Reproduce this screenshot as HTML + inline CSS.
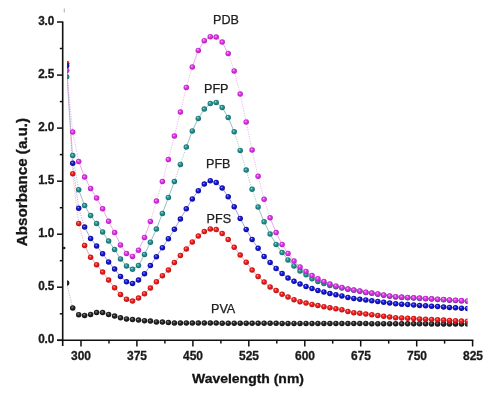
<!DOCTYPE html>
<html><head><meta charset="utf-8"><style>
html,body{margin:0;padding:0;background:#fff;}
#c{position:relative;width:500px;height:405px;overflow:hidden;background:#fff;filter:blur(0.35px);font-family:"Liberation Sans",sans-serif;}
.yl{position:absolute;left:30px;width:24px;text-align:right;font-weight:bold;font-size:12px;line-height:14px;color:#1a1a1a;-webkit-text-stroke:0.3px #1a1a1a;transform:scaleX(0.98);transform-origin:right center;letter-spacing:-0.2px;}
.xl{position:absolute;top:348.9px;width:40px;text-align:center;font-weight:bold;font-size:12.5px;line-height:14px;color:#1a1a1a;-webkit-text-stroke:0.3px #1a1a1a;transform:scaleX(0.96);}
.lab{position:absolute;font-size:12.6px;line-height:14px;color:#202020;-webkit-text-stroke:0.25px #202020;white-space:nowrap;}
#xt{position:absolute;left:192px;top:371px;font-weight:bold;font-size:13.3px;line-height:16px;color:#151515;-webkit-text-stroke:0.3px #151515;white-space:nowrap;transform:scaleX(1.05);transform-origin:left center;}
#yt{position:absolute;left:22px;top:182px;font-weight:bold;font-size:14px;line-height:16px;color:#151515;-webkit-text-stroke:0.3px #151515;white-space:nowrap;transform:translate(-50%,-50%) rotate(-90deg) scaleX(1.085);}
</style></head><body><div id="c">
<svg width="500" height="405" viewBox="0 0 500 405" style="position:absolute;left:0;top:0"><defs><radialGradient id="gteal" cx="0.5" cy="0.5" fx="0.38" fy="0.33" r="0.55"><stop offset="0" stop-color="#a8eeee"/><stop offset="0.35" stop-color="#2a9696"/><stop offset="1" stop-color="#166666"/></radialGradient><radialGradient id="gblack" cx="0.5" cy="0.5" fx="0.38" fy="0.33" r="0.55"><stop offset="0" stop-color="#b0b0b0"/><stop offset="0.35" stop-color="#303030"/><stop offset="1" stop-color="#0a0a0a"/></radialGradient><radialGradient id="gred" cx="0.5" cy="0.5" fx="0.38" fy="0.33" r="0.55"><stop offset="0" stop-color="#ffb8b8"/><stop offset="0.35" stop-color="#f52424"/><stop offset="1" stop-color="#b00c0c"/></radialGradient><radialGradient id="gblue" cx="0.5" cy="0.5" fx="0.38" fy="0.33" r="0.55"><stop offset="0" stop-color="#b8b8ff"/><stop offset="0.35" stop-color="#1c1ce0"/><stop offset="1" stop-color="#08088a"/></radialGradient><radialGradient id="gmag" cx="0.5" cy="0.5" fx="0.38" fy="0.33" r="0.55"><stop offset="0" stop-color="#ffc8ff"/><stop offset="0.35" stop-color="#e63cef"/><stop offset="1" stop-color="#aa18b2"/></radialGradient><clipPath id="cp"><rect x="67.0" y="0" width="400.5" height="405"/></clipPath></defs><g clip-path="url(#cp)"><line x1="66.7" y1="76.7" x2="72.7" y2="155.6" stroke="#78b0b0" stroke-opacity="0.85" stroke-width="0.8" stroke-dasharray="1.2,1.2"/><line x1="72.7" y1="155.6" x2="78.7" y2="189.7" stroke="#78b0b0" stroke-opacity="0.85" stroke-width="0.8" stroke-dasharray="1.2,1.2"/><polyline points="78.7,189.7 84.6,205.6 90.6,215.6 96.6,223.5 102.6,231.9 108.6,241.0 114.6,249.5 120.5,258.9 126.5,265.9 132.5,269.3 138.5,265.6 144.5,254.4 150.4,242.3 156.4,229.0 162.4,213.4 168.4,197.5 174.4,181.5" fill="none" stroke="#78b0b0" stroke-width="0.8"/><line x1="174.4" y1="181.5" x2="180.4" y2="164.4" stroke="#78b0b0" stroke-opacity="0.85" stroke-width="0.8" stroke-dasharray="1.2,1.2"/><line x1="180.4" y1="164.4" x2="186.3" y2="147.1" stroke="#78b0b0" stroke-opacity="0.85" stroke-width="0.8" stroke-dasharray="1.2,1.2"/><polyline points="186.3,147.1 192.3,130.9 198.3,118.4 204.3,109.1 210.3,103.6 216.2,102.4 222.2,107.6 228.2,117.5 234.2,131.8" fill="none" stroke="#78b0b0" stroke-width="0.8"/><line x1="234.2" y1="131.8" x2="240.2" y2="150.4" stroke="#78b0b0" stroke-opacity="0.85" stroke-width="0.8" stroke-dasharray="1.2,1.2"/><line x1="240.2" y1="150.4" x2="246.2" y2="170.1" stroke="#78b0b0" stroke-opacity="0.85" stroke-width="0.8" stroke-dasharray="1.2,1.2"/><line x1="246.2" y1="170.1" x2="252.1" y2="189.3" stroke="#78b0b0" stroke-opacity="0.85" stroke-width="0.8" stroke-dasharray="1.2,1.2"/><line x1="252.1" y1="189.3" x2="258.1" y2="207.0" stroke="#78b0b0" stroke-opacity="0.85" stroke-width="0.8" stroke-dasharray="1.2,1.2"/><polyline points="258.1,207.0 264.1,221.8 270.1,234.0 276.1,244.4 282.1,252.6 288.0,259.9 294.0,265.9 300.0,271.1 306.0,274.8 312.0,278.8 317.9,281.4 323.9,283.5 329.9,285.5 335.9,286.7 341.9,287.9 347.9,289.3 353.8,290.3 359.8,291.3 365.8,292.5 371.8,293.3 377.8,294.3 383.7,295.2 389.7,296.2 395.7,297.0 401.7,297.4 407.7,297.7 413.7,298.1 419.6,298.4 425.6,298.8 431.6,299.1 437.6,299.5 443.6,299.8 449.5,300.2 455.5,300.5 461.5,300.9 467.5,301.2" fill="none" stroke="#78b0b0" stroke-width="0.8"/><line x1="66.7" y1="283.0" x2="72.7" y2="308.0" stroke="#a0a0a0" stroke-opacity="0.85" stroke-width="0.8" stroke-dasharray="1.2,1.2"/><polyline points="72.7,308.0 78.7,314.7 84.6,315.4 90.6,314.4 96.6,312.6 102.6,312.6 108.6,314.4 114.6,316.1 120.5,317.8 126.5,318.9 132.5,319.6 138.5,320.1 144.5,320.7 150.4,321.1 156.4,321.9 162.4,322.1 168.4,322.6 174.4,323.0 180.4,323.0 186.3,323.0 192.3,323.1 198.3,323.1 204.3,323.1 210.3,323.1 216.2,323.1 222.2,323.2 228.2,323.2 234.2,323.2 240.2,323.2 246.2,323.2 252.1,323.3 258.1,323.3 264.1,323.3 270.1,323.3 276.1,323.3 282.1,323.4 288.0,323.4 294.0,323.4 300.0,323.4 306.0,323.4 312.0,323.5 317.9,323.5 323.9,323.5 329.9,323.5 335.9,323.5 341.9,323.6 347.9,323.6 353.8,323.6 359.8,323.6 365.8,323.6 371.8,323.7 377.8,323.7 383.7,323.7 389.7,323.7 395.7,323.7 401.7,323.8 407.7,323.8 413.7,323.8 419.6,323.8 425.6,323.8 431.6,323.9 437.6,323.9 443.6,323.9 449.5,323.9 455.5,323.9 461.5,324.0 467.5,324.0" fill="none" stroke="#a0a0a0" stroke-width="0.8" stroke-dasharray="1.2,1.2"/><line x1="66.7" y1="63.5" x2="72.7" y2="173.7" stroke="#e89090" stroke-opacity="0.85" stroke-width="0.8" stroke-dasharray="1.2,1.2"/><line x1="72.7" y1="173.7" x2="78.7" y2="223.5" stroke="#e89090" stroke-opacity="0.85" stroke-width="0.8" stroke-dasharray="1.2,1.2"/><line x1="78.7" y1="223.5" x2="84.6" y2="245.5" stroke="#e89090" stroke-opacity="0.85" stroke-width="0.8" stroke-dasharray="1.2,1.2"/><polyline points="84.6,245.5 90.6,257.3 96.6,264.7 102.6,272.1 108.6,280.0 114.6,287.7 120.5,294.4 126.5,299.3 132.5,301.1 138.5,298.1 144.5,293.7 150.4,288.0 156.4,281.8 162.4,275.7 168.4,270.0 174.4,262.5 180.4,255.6 186.3,248.9 192.3,241.9 198.3,236.0 204.3,231.6 210.3,228.9 216.2,229.6 222.2,233.6 228.2,239.6 234.2,247.3 240.2,255.1 246.2,262.2 252.1,270.1 258.1,276.5 264.1,282.0 270.1,286.9 276.1,290.6 282.1,294.3 288.0,297.0 294.0,299.7 300.0,301.7 306.0,303.1 312.0,304.4 317.9,305.6 323.9,306.7 329.9,307.8 335.9,308.8 341.9,309.7 347.9,311.5 353.8,312.7 359.8,313.3 365.8,314.1 371.8,314.7 377.8,315.6 383.7,316.2 389.7,317.1 395.7,317.7 401.7,318.0 407.7,318.3 413.7,318.6 419.6,318.9 425.6,319.2 431.6,319.5 437.6,319.8 443.6,320.1 449.5,320.4 455.5,320.7 461.5,321.0 467.5,321.3" fill="none" stroke="#e89090" stroke-width="0.8"/><line x1="66.7" y1="65.8" x2="72.7" y2="163.3" stroke="#8888d8" stroke-opacity="0.85" stroke-width="0.8" stroke-dasharray="1.2,1.2"/><line x1="72.7" y1="163.3" x2="78.7" y2="208.2" stroke="#8888d8" stroke-opacity="0.85" stroke-width="0.8" stroke-dasharray="1.2,1.2"/><line x1="78.7" y1="208.2" x2="84.6" y2="227.1" stroke="#8888d8" stroke-opacity="0.85" stroke-width="0.8" stroke-dasharray="1.2,1.2"/><polyline points="84.6,227.1 90.6,238.5 96.6,245.9 102.6,253.8 108.6,261.9 114.6,269.1 120.5,276.4 126.5,281.8 132.5,283.5 138.5,280.0 144.5,273.7 150.4,265.6 156.4,256.7 162.4,247.7 168.4,238.7 174.4,229.3 180.4,219.1 186.3,208.8 192.3,198.9 198.3,190.7 204.3,184.1 210.3,180.7 216.2,182.6 222.2,188.1 228.2,196.7 234.2,206.7 240.2,218.5 246.2,229.4 252.1,239.4 258.1,248.3 264.1,256.4 270.1,262.5 276.1,268.6 282.1,273.6 288.0,278.1 294.0,281.3 300.0,284.1 306.0,286.4 312.0,288.6 317.9,290.4 323.9,291.9 329.9,293.6 335.9,294.8 341.9,295.9 347.9,297.4 353.8,298.4 359.8,299.3 365.8,299.9 371.8,300.8 377.8,301.4 383.7,302.3 389.7,302.9 395.7,303.8 401.7,304.2 407.7,304.6 413.7,305.0 419.6,305.4 425.6,305.8 431.6,306.2 437.6,306.6 443.6,307.0 449.5,307.4 455.5,307.8 461.5,308.2 467.5,308.6" fill="none" stroke="#8888d8" stroke-width="0.8"/><line x1="66.7" y1="70.5" x2="72.7" y2="132.1" stroke="#e890e8" stroke-opacity="0.85" stroke-width="0.8" stroke-dasharray="1.2,1.2"/><line x1="72.7" y1="132.1" x2="78.7" y2="161.5" stroke="#e890e8" stroke-opacity="0.85" stroke-width="0.8" stroke-dasharray="1.2,1.2"/><polyline points="78.7,161.5 84.6,177.1 90.6,188.5 96.6,198.1 102.6,208.8 108.6,221.3 114.6,232.6 120.5,244.9 126.5,253.4 132.5,256.4 138.5,250.2 144.5,237.5 150.4,221.4" fill="none" stroke="#e890e8" stroke-width="0.8"/><line x1="150.4" y1="221.4" x2="156.4" y2="201.0" stroke="#e890e8" stroke-opacity="0.85" stroke-width="0.8" stroke-dasharray="1.2,1.2"/><line x1="156.4" y1="201.0" x2="162.4" y2="181.5" stroke="#e890e8" stroke-opacity="0.85" stroke-width="0.8" stroke-dasharray="1.2,1.2"/><line x1="162.4" y1="181.5" x2="168.4" y2="159.6" stroke="#e890e8" stroke-opacity="0.85" stroke-width="0.8" stroke-dasharray="1.2,1.2"/><line x1="168.4" y1="159.6" x2="174.4" y2="136.0" stroke="#e890e8" stroke-opacity="0.85" stroke-width="0.8" stroke-dasharray="1.2,1.2"/><line x1="174.4" y1="136.0" x2="180.4" y2="112.0" stroke="#e890e8" stroke-opacity="0.85" stroke-width="0.8" stroke-dasharray="1.2,1.2"/><line x1="180.4" y1="112.0" x2="186.3" y2="87.5" stroke="#e890e8" stroke-opacity="0.85" stroke-width="0.8" stroke-dasharray="1.2,1.2"/><line x1="186.3" y1="87.5" x2="192.3" y2="67.0" stroke="#e890e8" stroke-opacity="0.85" stroke-width="0.8" stroke-dasharray="1.2,1.2"/><polyline points="192.3,67.0 198.3,50.4 204.3,40.7 210.3,36.7 216.2,37.1 222.2,42.1 228.2,53.4" fill="none" stroke="#e890e8" stroke-width="0.8"/><line x1="228.2" y1="53.4" x2="234.2" y2="70.9" stroke="#e890e8" stroke-opacity="0.85" stroke-width="0.8" stroke-dasharray="1.2,1.2"/><line x1="234.2" y1="70.9" x2="240.2" y2="94.1" stroke="#e890e8" stroke-opacity="0.85" stroke-width="0.8" stroke-dasharray="1.2,1.2"/><line x1="240.2" y1="94.1" x2="246.2" y2="122.0" stroke="#e890e8" stroke-opacity="0.85" stroke-width="0.8" stroke-dasharray="1.2,1.2"/><line x1="246.2" y1="122.0" x2="252.1" y2="150.0" stroke="#e890e8" stroke-opacity="0.85" stroke-width="0.8" stroke-dasharray="1.2,1.2"/><line x1="252.1" y1="150.0" x2="258.1" y2="176.3" stroke="#e890e8" stroke-opacity="0.85" stroke-width="0.8" stroke-dasharray="1.2,1.2"/><line x1="258.1" y1="176.3" x2="264.1" y2="199.3" stroke="#e890e8" stroke-opacity="0.85" stroke-width="0.8" stroke-dasharray="1.2,1.2"/><line x1="264.1" y1="199.3" x2="270.1" y2="217.8" stroke="#e890e8" stroke-opacity="0.85" stroke-width="0.8" stroke-dasharray="1.2,1.2"/><polyline points="270.1,217.8 276.1,232.6 282.1,244.4 288.0,253.5 294.0,261.0 300.0,267.0 306.0,271.4 312.0,275.6 317.9,278.8 323.9,281.5 329.9,284.1 335.9,285.9 341.9,287.6 347.9,289.0 353.8,290.0 359.8,291.0 365.8,292.2 371.8,293.0 377.8,294.0 383.7,294.9 389.7,295.9 395.7,296.7 401.7,297.1 407.7,297.4 413.7,297.8 419.6,298.1 425.6,298.5 431.6,298.8 437.6,299.2 443.6,299.5 449.5,299.9 455.5,300.2 461.5,300.6 467.5,300.9" fill="none" stroke="#e890e8" stroke-width="0.8"/><circle cx="66.7" cy="76.7" r="2.75" fill="url(#gteal)"/><circle cx="72.7" cy="155.6" r="2.75" fill="url(#gteal)"/><circle cx="78.7" cy="189.7" r="2.75" fill="url(#gteal)"/><circle cx="84.6" cy="205.6" r="2.75" fill="url(#gteal)"/><circle cx="90.6" cy="215.6" r="2.75" fill="url(#gteal)"/><circle cx="96.6" cy="223.5" r="2.75" fill="url(#gteal)"/><circle cx="102.6" cy="231.9" r="2.75" fill="url(#gteal)"/><circle cx="108.6" cy="241.0" r="2.75" fill="url(#gteal)"/><circle cx="114.6" cy="249.5" r="2.75" fill="url(#gteal)"/><circle cx="120.5" cy="258.9" r="2.75" fill="url(#gteal)"/><circle cx="126.5" cy="265.9" r="2.75" fill="url(#gteal)"/><circle cx="132.5" cy="269.3" r="2.75" fill="url(#gteal)"/><circle cx="138.5" cy="265.6" r="2.75" fill="url(#gteal)"/><circle cx="144.5" cy="254.4" r="2.75" fill="url(#gteal)"/><circle cx="150.4" cy="242.3" r="2.75" fill="url(#gteal)"/><circle cx="156.4" cy="229.0" r="2.75" fill="url(#gteal)"/><circle cx="162.4" cy="213.4" r="2.75" fill="url(#gteal)"/><circle cx="168.4" cy="197.5" r="2.75" fill="url(#gteal)"/><circle cx="174.4" cy="181.5" r="2.75" fill="url(#gteal)"/><circle cx="180.4" cy="164.4" r="2.75" fill="url(#gteal)"/><circle cx="186.3" cy="147.1" r="2.75" fill="url(#gteal)"/><circle cx="192.3" cy="130.9" r="2.75" fill="url(#gteal)"/><circle cx="198.3" cy="118.4" r="2.75" fill="url(#gteal)"/><circle cx="204.3" cy="109.1" r="2.75" fill="url(#gteal)"/><circle cx="210.3" cy="103.6" r="2.75" fill="url(#gteal)"/><circle cx="216.2" cy="102.4" r="2.75" fill="url(#gteal)"/><circle cx="222.2" cy="107.6" r="2.75" fill="url(#gteal)"/><circle cx="228.2" cy="117.5" r="2.75" fill="url(#gteal)"/><circle cx="234.2" cy="131.8" r="2.75" fill="url(#gteal)"/><circle cx="240.2" cy="150.4" r="2.75" fill="url(#gteal)"/><circle cx="246.2" cy="170.1" r="2.75" fill="url(#gteal)"/><circle cx="252.1" cy="189.3" r="2.75" fill="url(#gteal)"/><circle cx="258.1" cy="207.0" r="2.75" fill="url(#gteal)"/><circle cx="264.1" cy="221.8" r="2.75" fill="url(#gteal)"/><circle cx="270.1" cy="234.0" r="2.75" fill="url(#gteal)"/><circle cx="276.1" cy="244.4" r="2.75" fill="url(#gteal)"/><circle cx="282.1" cy="252.6" r="2.75" fill="url(#gteal)"/><circle cx="288.0" cy="259.9" r="2.75" fill="url(#gteal)"/><circle cx="294.0" cy="265.9" r="2.75" fill="url(#gteal)"/><circle cx="300.0" cy="271.1" r="2.75" fill="url(#gteal)"/><circle cx="306.0" cy="274.8" r="2.75" fill="url(#gteal)"/><circle cx="312.0" cy="278.8" r="2.75" fill="url(#gteal)"/><circle cx="317.9" cy="281.4" r="2.75" fill="url(#gteal)"/><circle cx="323.9" cy="283.5" r="2.75" fill="url(#gteal)"/><circle cx="329.9" cy="285.5" r="2.75" fill="url(#gteal)"/><circle cx="335.9" cy="286.7" r="2.75" fill="url(#gteal)"/><circle cx="341.9" cy="287.9" r="2.75" fill="url(#gteal)"/><circle cx="347.9" cy="289.3" r="2.75" fill="url(#gteal)"/><circle cx="353.8" cy="290.3" r="2.75" fill="url(#gteal)"/><circle cx="359.8" cy="291.3" r="2.75" fill="url(#gteal)"/><circle cx="365.8" cy="292.5" r="2.75" fill="url(#gteal)"/><circle cx="371.8" cy="293.3" r="2.75" fill="url(#gteal)"/><circle cx="377.8" cy="294.3" r="2.75" fill="url(#gteal)"/><circle cx="383.7" cy="295.2" r="2.75" fill="url(#gteal)"/><circle cx="389.7" cy="296.2" r="2.75" fill="url(#gteal)"/><circle cx="395.7" cy="297.0" r="2.75" fill="url(#gteal)"/><circle cx="401.7" cy="297.4" r="2.75" fill="url(#gteal)"/><circle cx="407.7" cy="297.7" r="2.75" fill="url(#gteal)"/><circle cx="413.7" cy="298.1" r="2.75" fill="url(#gteal)"/><circle cx="419.6" cy="298.4" r="2.75" fill="url(#gteal)"/><circle cx="425.6" cy="298.8" r="2.75" fill="url(#gteal)"/><circle cx="431.6" cy="299.1" r="2.75" fill="url(#gteal)"/><circle cx="437.6" cy="299.5" r="2.75" fill="url(#gteal)"/><circle cx="443.6" cy="299.8" r="2.75" fill="url(#gteal)"/><circle cx="449.5" cy="300.2" r="2.75" fill="url(#gteal)"/><circle cx="455.5" cy="300.5" r="2.75" fill="url(#gteal)"/><circle cx="461.5" cy="300.9" r="2.75" fill="url(#gteal)"/><circle cx="467.5" cy="301.2" r="2.75" fill="url(#gteal)"/><circle cx="66.7" cy="283.0" r="2.75" fill="url(#gblack)"/><circle cx="72.7" cy="308.0" r="2.75" fill="url(#gblack)"/><circle cx="78.7" cy="314.7" r="2.75" fill="url(#gblack)"/><circle cx="84.6" cy="315.4" r="2.75" fill="url(#gblack)"/><circle cx="90.6" cy="314.4" r="2.75" fill="url(#gblack)"/><circle cx="96.6" cy="312.6" r="2.75" fill="url(#gblack)"/><circle cx="102.6" cy="312.6" r="2.75" fill="url(#gblack)"/><circle cx="108.6" cy="314.4" r="2.75" fill="url(#gblack)"/><circle cx="114.6" cy="316.1" r="2.75" fill="url(#gblack)"/><circle cx="120.5" cy="317.8" r="2.75" fill="url(#gblack)"/><circle cx="126.5" cy="318.9" r="2.75" fill="url(#gblack)"/><circle cx="132.5" cy="319.6" r="2.75" fill="url(#gblack)"/><circle cx="138.5" cy="320.1" r="2.75" fill="url(#gblack)"/><circle cx="144.5" cy="320.7" r="2.75" fill="url(#gblack)"/><circle cx="150.4" cy="321.1" r="2.75" fill="url(#gblack)"/><circle cx="156.4" cy="321.9" r="2.75" fill="url(#gblack)"/><circle cx="162.4" cy="322.1" r="2.75" fill="url(#gblack)"/><circle cx="168.4" cy="322.6" r="2.75" fill="url(#gblack)"/><circle cx="174.4" cy="323.0" r="2.75" fill="url(#gblack)"/><circle cx="180.4" cy="323.0" r="2.75" fill="url(#gblack)"/><circle cx="186.3" cy="323.0" r="2.75" fill="url(#gblack)"/><circle cx="192.3" cy="323.1" r="2.75" fill="url(#gblack)"/><circle cx="198.3" cy="323.1" r="2.75" fill="url(#gblack)"/><circle cx="204.3" cy="323.1" r="2.75" fill="url(#gblack)"/><circle cx="210.3" cy="323.1" r="2.75" fill="url(#gblack)"/><circle cx="216.2" cy="323.1" r="2.75" fill="url(#gblack)"/><circle cx="222.2" cy="323.2" r="2.75" fill="url(#gblack)"/><circle cx="228.2" cy="323.2" r="2.75" fill="url(#gblack)"/><circle cx="234.2" cy="323.2" r="2.75" fill="url(#gblack)"/><circle cx="240.2" cy="323.2" r="2.75" fill="url(#gblack)"/><circle cx="246.2" cy="323.2" r="2.75" fill="url(#gblack)"/><circle cx="252.1" cy="323.3" r="2.75" fill="url(#gblack)"/><circle cx="258.1" cy="323.3" r="2.75" fill="url(#gblack)"/><circle cx="264.1" cy="323.3" r="2.75" fill="url(#gblack)"/><circle cx="270.1" cy="323.3" r="2.75" fill="url(#gblack)"/><circle cx="276.1" cy="323.3" r="2.75" fill="url(#gblack)"/><circle cx="282.1" cy="323.4" r="2.75" fill="url(#gblack)"/><circle cx="288.0" cy="323.4" r="2.75" fill="url(#gblack)"/><circle cx="294.0" cy="323.4" r="2.75" fill="url(#gblack)"/><circle cx="300.0" cy="323.4" r="2.75" fill="url(#gblack)"/><circle cx="306.0" cy="323.4" r="2.75" fill="url(#gblack)"/><circle cx="312.0" cy="323.5" r="2.75" fill="url(#gblack)"/><circle cx="317.9" cy="323.5" r="2.75" fill="url(#gblack)"/><circle cx="323.9" cy="323.5" r="2.75" fill="url(#gblack)"/><circle cx="329.9" cy="323.5" r="2.75" fill="url(#gblack)"/><circle cx="335.9" cy="323.5" r="2.75" fill="url(#gblack)"/><circle cx="341.9" cy="323.6" r="2.75" fill="url(#gblack)"/><circle cx="347.9" cy="323.6" r="2.75" fill="url(#gblack)"/><circle cx="353.8" cy="323.6" r="2.75" fill="url(#gblack)"/><circle cx="359.8" cy="323.6" r="2.75" fill="url(#gblack)"/><circle cx="365.8" cy="323.6" r="2.75" fill="url(#gblack)"/><circle cx="371.8" cy="323.7" r="2.75" fill="url(#gblack)"/><circle cx="377.8" cy="323.7" r="2.75" fill="url(#gblack)"/><circle cx="383.7" cy="323.7" r="2.75" fill="url(#gblack)"/><circle cx="389.7" cy="323.7" r="2.75" fill="url(#gblack)"/><circle cx="395.7" cy="323.7" r="2.75" fill="url(#gblack)"/><circle cx="401.7" cy="323.8" r="2.75" fill="url(#gblack)"/><circle cx="407.7" cy="323.8" r="2.75" fill="url(#gblack)"/><circle cx="413.7" cy="323.8" r="2.75" fill="url(#gblack)"/><circle cx="419.6" cy="323.8" r="2.75" fill="url(#gblack)"/><circle cx="425.6" cy="323.8" r="2.75" fill="url(#gblack)"/><circle cx="431.6" cy="323.9" r="2.75" fill="url(#gblack)"/><circle cx="437.6" cy="323.9" r="2.75" fill="url(#gblack)"/><circle cx="443.6" cy="323.9" r="2.75" fill="url(#gblack)"/><circle cx="449.5" cy="323.9" r="2.75" fill="url(#gblack)"/><circle cx="455.5" cy="323.9" r="2.75" fill="url(#gblack)"/><circle cx="461.5" cy="324.0" r="2.75" fill="url(#gblack)"/><circle cx="467.5" cy="324.0" r="2.75" fill="url(#gblack)"/><circle cx="66.7" cy="63.5" r="2.75" fill="url(#gred)"/><circle cx="72.7" cy="173.7" r="2.75" fill="url(#gred)"/><circle cx="78.7" cy="223.5" r="2.75" fill="url(#gred)"/><circle cx="84.6" cy="245.5" r="2.75" fill="url(#gred)"/><circle cx="90.6" cy="257.3" r="2.75" fill="url(#gred)"/><circle cx="96.6" cy="264.7" r="2.75" fill="url(#gred)"/><circle cx="102.6" cy="272.1" r="2.75" fill="url(#gred)"/><circle cx="108.6" cy="280.0" r="2.75" fill="url(#gred)"/><circle cx="114.6" cy="287.7" r="2.75" fill="url(#gred)"/><circle cx="120.5" cy="294.4" r="2.75" fill="url(#gred)"/><circle cx="126.5" cy="299.3" r="2.75" fill="url(#gred)"/><circle cx="132.5" cy="301.1" r="2.75" fill="url(#gred)"/><circle cx="138.5" cy="298.1" r="2.75" fill="url(#gred)"/><circle cx="144.5" cy="293.7" r="2.75" fill="url(#gred)"/><circle cx="150.4" cy="288.0" r="2.75" fill="url(#gred)"/><circle cx="156.4" cy="281.8" r="2.75" fill="url(#gred)"/><circle cx="162.4" cy="275.7" r="2.75" fill="url(#gred)"/><circle cx="168.4" cy="270.0" r="2.75" fill="url(#gred)"/><circle cx="174.4" cy="262.5" r="2.75" fill="url(#gred)"/><circle cx="180.4" cy="255.6" r="2.75" fill="url(#gred)"/><circle cx="186.3" cy="248.9" r="2.75" fill="url(#gred)"/><circle cx="192.3" cy="241.9" r="2.75" fill="url(#gred)"/><circle cx="198.3" cy="236.0" r="2.75" fill="url(#gred)"/><circle cx="204.3" cy="231.6" r="2.75" fill="url(#gred)"/><circle cx="210.3" cy="228.9" r="2.75" fill="url(#gred)"/><circle cx="216.2" cy="229.6" r="2.75" fill="url(#gred)"/><circle cx="222.2" cy="233.6" r="2.75" fill="url(#gred)"/><circle cx="228.2" cy="239.6" r="2.75" fill="url(#gred)"/><circle cx="234.2" cy="247.3" r="2.75" fill="url(#gred)"/><circle cx="240.2" cy="255.1" r="2.75" fill="url(#gred)"/><circle cx="246.2" cy="262.2" r="2.75" fill="url(#gred)"/><circle cx="252.1" cy="270.1" r="2.75" fill="url(#gred)"/><circle cx="258.1" cy="276.5" r="2.75" fill="url(#gred)"/><circle cx="264.1" cy="282.0" r="2.75" fill="url(#gred)"/><circle cx="270.1" cy="286.9" r="2.75" fill="url(#gred)"/><circle cx="276.1" cy="290.6" r="2.75" fill="url(#gred)"/><circle cx="282.1" cy="294.3" r="2.75" fill="url(#gred)"/><circle cx="288.0" cy="297.0" r="2.75" fill="url(#gred)"/><circle cx="294.0" cy="299.7" r="2.75" fill="url(#gred)"/><circle cx="300.0" cy="301.7" r="2.75" fill="url(#gred)"/><circle cx="306.0" cy="303.1" r="2.75" fill="url(#gred)"/><circle cx="312.0" cy="304.4" r="2.75" fill="url(#gred)"/><circle cx="317.9" cy="305.6" r="2.75" fill="url(#gred)"/><circle cx="323.9" cy="306.7" r="2.75" fill="url(#gred)"/><circle cx="329.9" cy="307.8" r="2.75" fill="url(#gred)"/><circle cx="335.9" cy="308.8" r="2.75" fill="url(#gred)"/><circle cx="341.9" cy="309.7" r="2.75" fill="url(#gred)"/><circle cx="347.9" cy="311.5" r="2.75" fill="url(#gred)"/><circle cx="353.8" cy="312.7" r="2.75" fill="url(#gred)"/><circle cx="359.8" cy="313.3" r="2.75" fill="url(#gred)"/><circle cx="365.8" cy="314.1" r="2.75" fill="url(#gred)"/><circle cx="371.8" cy="314.7" r="2.75" fill="url(#gred)"/><circle cx="377.8" cy="315.6" r="2.75" fill="url(#gred)"/><circle cx="383.7" cy="316.2" r="2.75" fill="url(#gred)"/><circle cx="389.7" cy="317.1" r="2.75" fill="url(#gred)"/><circle cx="395.7" cy="317.7" r="2.75" fill="url(#gred)"/><circle cx="401.7" cy="318.0" r="2.75" fill="url(#gred)"/><circle cx="407.7" cy="318.3" r="2.75" fill="url(#gred)"/><circle cx="413.7" cy="318.6" r="2.75" fill="url(#gred)"/><circle cx="419.6" cy="318.9" r="2.75" fill="url(#gred)"/><circle cx="425.6" cy="319.2" r="2.75" fill="url(#gred)"/><circle cx="431.6" cy="319.5" r="2.75" fill="url(#gred)"/><circle cx="437.6" cy="319.8" r="2.75" fill="url(#gred)"/><circle cx="443.6" cy="320.1" r="2.75" fill="url(#gred)"/><circle cx="449.5" cy="320.4" r="2.75" fill="url(#gred)"/><circle cx="455.5" cy="320.7" r="2.75" fill="url(#gred)"/><circle cx="461.5" cy="321.0" r="2.75" fill="url(#gred)"/><circle cx="467.5" cy="321.3" r="2.75" fill="url(#gred)"/><circle cx="66.7" cy="65.8" r="2.75" fill="url(#gblue)"/><circle cx="72.7" cy="163.3" r="2.75" fill="url(#gblue)"/><circle cx="78.7" cy="208.2" r="2.75" fill="url(#gblue)"/><circle cx="84.6" cy="227.1" r="2.75" fill="url(#gblue)"/><circle cx="90.6" cy="238.5" r="2.75" fill="url(#gblue)"/><circle cx="96.6" cy="245.9" r="2.75" fill="url(#gblue)"/><circle cx="102.6" cy="253.8" r="2.75" fill="url(#gblue)"/><circle cx="108.6" cy="261.9" r="2.75" fill="url(#gblue)"/><circle cx="114.6" cy="269.1" r="2.75" fill="url(#gblue)"/><circle cx="120.5" cy="276.4" r="2.75" fill="url(#gblue)"/><circle cx="126.5" cy="281.8" r="2.75" fill="url(#gblue)"/><circle cx="132.5" cy="283.5" r="2.75" fill="url(#gblue)"/><circle cx="138.5" cy="280.0" r="2.75" fill="url(#gblue)"/><circle cx="144.5" cy="273.7" r="2.75" fill="url(#gblue)"/><circle cx="150.4" cy="265.6" r="2.75" fill="url(#gblue)"/><circle cx="156.4" cy="256.7" r="2.75" fill="url(#gblue)"/><circle cx="162.4" cy="247.7" r="2.75" fill="url(#gblue)"/><circle cx="168.4" cy="238.7" r="2.75" fill="url(#gblue)"/><circle cx="174.4" cy="229.3" r="2.75" fill="url(#gblue)"/><circle cx="180.4" cy="219.1" r="2.75" fill="url(#gblue)"/><circle cx="186.3" cy="208.8" r="2.75" fill="url(#gblue)"/><circle cx="192.3" cy="198.9" r="2.75" fill="url(#gblue)"/><circle cx="198.3" cy="190.7" r="2.75" fill="url(#gblue)"/><circle cx="204.3" cy="184.1" r="2.75" fill="url(#gblue)"/><circle cx="210.3" cy="180.7" r="2.75" fill="url(#gblue)"/><circle cx="216.2" cy="182.6" r="2.75" fill="url(#gblue)"/><circle cx="222.2" cy="188.1" r="2.75" fill="url(#gblue)"/><circle cx="228.2" cy="196.7" r="2.75" fill="url(#gblue)"/><circle cx="234.2" cy="206.7" r="2.75" fill="url(#gblue)"/><circle cx="240.2" cy="218.5" r="2.75" fill="url(#gblue)"/><circle cx="246.2" cy="229.4" r="2.75" fill="url(#gblue)"/><circle cx="252.1" cy="239.4" r="2.75" fill="url(#gblue)"/><circle cx="258.1" cy="248.3" r="2.75" fill="url(#gblue)"/><circle cx="264.1" cy="256.4" r="2.75" fill="url(#gblue)"/><circle cx="270.1" cy="262.5" r="2.75" fill="url(#gblue)"/><circle cx="276.1" cy="268.6" r="2.75" fill="url(#gblue)"/><circle cx="282.1" cy="273.6" r="2.75" fill="url(#gblue)"/><circle cx="288.0" cy="278.1" r="2.75" fill="url(#gblue)"/><circle cx="294.0" cy="281.3" r="2.75" fill="url(#gblue)"/><circle cx="300.0" cy="284.1" r="2.75" fill="url(#gblue)"/><circle cx="306.0" cy="286.4" r="2.75" fill="url(#gblue)"/><circle cx="312.0" cy="288.6" r="2.75" fill="url(#gblue)"/><circle cx="317.9" cy="290.4" r="2.75" fill="url(#gblue)"/><circle cx="323.9" cy="291.9" r="2.75" fill="url(#gblue)"/><circle cx="329.9" cy="293.6" r="2.75" fill="url(#gblue)"/><circle cx="335.9" cy="294.8" r="2.75" fill="url(#gblue)"/><circle cx="341.9" cy="295.9" r="2.75" fill="url(#gblue)"/><circle cx="347.9" cy="297.4" r="2.75" fill="url(#gblue)"/><circle cx="353.8" cy="298.4" r="2.75" fill="url(#gblue)"/><circle cx="359.8" cy="299.3" r="2.75" fill="url(#gblue)"/><circle cx="365.8" cy="299.9" r="2.75" fill="url(#gblue)"/><circle cx="371.8" cy="300.8" r="2.75" fill="url(#gblue)"/><circle cx="377.8" cy="301.4" r="2.75" fill="url(#gblue)"/><circle cx="383.7" cy="302.3" r="2.75" fill="url(#gblue)"/><circle cx="389.7" cy="302.9" r="2.75" fill="url(#gblue)"/><circle cx="395.7" cy="303.8" r="2.75" fill="url(#gblue)"/><circle cx="401.7" cy="304.2" r="2.75" fill="url(#gblue)"/><circle cx="407.7" cy="304.6" r="2.75" fill="url(#gblue)"/><circle cx="413.7" cy="305.0" r="2.75" fill="url(#gblue)"/><circle cx="419.6" cy="305.4" r="2.75" fill="url(#gblue)"/><circle cx="425.6" cy="305.8" r="2.75" fill="url(#gblue)"/><circle cx="431.6" cy="306.2" r="2.75" fill="url(#gblue)"/><circle cx="437.6" cy="306.6" r="2.75" fill="url(#gblue)"/><circle cx="443.6" cy="307.0" r="2.75" fill="url(#gblue)"/><circle cx="449.5" cy="307.4" r="2.75" fill="url(#gblue)"/><circle cx="455.5" cy="307.8" r="2.75" fill="url(#gblue)"/><circle cx="461.5" cy="308.2" r="2.75" fill="url(#gblue)"/><circle cx="467.5" cy="308.6" r="2.75" fill="url(#gblue)"/><circle cx="66.7" cy="70.5" r="2.75" fill="url(#gmag)"/><circle cx="72.7" cy="132.1" r="2.75" fill="url(#gmag)"/><circle cx="78.7" cy="161.5" r="2.75" fill="url(#gmag)"/><circle cx="84.6" cy="177.1" r="2.75" fill="url(#gmag)"/><circle cx="90.6" cy="188.5" r="2.75" fill="url(#gmag)"/><circle cx="96.6" cy="198.1" r="2.75" fill="url(#gmag)"/><circle cx="102.6" cy="208.8" r="2.75" fill="url(#gmag)"/><circle cx="108.6" cy="221.3" r="2.75" fill="url(#gmag)"/><circle cx="114.6" cy="232.6" r="2.75" fill="url(#gmag)"/><circle cx="120.5" cy="244.9" r="2.75" fill="url(#gmag)"/><circle cx="126.5" cy="253.4" r="2.75" fill="url(#gmag)"/><circle cx="132.5" cy="256.4" r="2.75" fill="url(#gmag)"/><circle cx="138.5" cy="250.2" r="2.75" fill="url(#gmag)"/><circle cx="144.5" cy="237.5" r="2.75" fill="url(#gmag)"/><circle cx="150.4" cy="221.4" r="2.75" fill="url(#gmag)"/><circle cx="156.4" cy="201.0" r="2.75" fill="url(#gmag)"/><circle cx="162.4" cy="181.5" r="2.75" fill="url(#gmag)"/><circle cx="168.4" cy="159.6" r="2.75" fill="url(#gmag)"/><circle cx="174.4" cy="136.0" r="2.75" fill="url(#gmag)"/><circle cx="180.4" cy="112.0" r="2.75" fill="url(#gmag)"/><circle cx="186.3" cy="87.5" r="2.75" fill="url(#gmag)"/><circle cx="192.3" cy="67.0" r="2.75" fill="url(#gmag)"/><circle cx="198.3" cy="50.4" r="2.75" fill="url(#gmag)"/><circle cx="204.3" cy="40.7" r="2.75" fill="url(#gmag)"/><circle cx="210.3" cy="36.7" r="2.75" fill="url(#gmag)"/><circle cx="216.2" cy="37.1" r="2.75" fill="url(#gmag)"/><circle cx="222.2" cy="42.1" r="2.75" fill="url(#gmag)"/><circle cx="228.2" cy="53.4" r="2.75" fill="url(#gmag)"/><circle cx="234.2" cy="70.9" r="2.75" fill="url(#gmag)"/><circle cx="240.2" cy="94.1" r="2.75" fill="url(#gmag)"/><circle cx="246.2" cy="122.0" r="2.75" fill="url(#gmag)"/><circle cx="252.1" cy="150.0" r="2.75" fill="url(#gmag)"/><circle cx="258.1" cy="176.3" r="2.75" fill="url(#gmag)"/><circle cx="264.1" cy="199.3" r="2.75" fill="url(#gmag)"/><circle cx="270.1" cy="217.8" r="2.75" fill="url(#gmag)"/><circle cx="276.1" cy="232.6" r="2.75" fill="url(#gmag)"/><circle cx="282.1" cy="244.4" r="2.75" fill="url(#gmag)"/><circle cx="288.0" cy="253.5" r="2.75" fill="url(#gmag)"/><circle cx="294.0" cy="261.0" r="2.75" fill="url(#gmag)"/><circle cx="300.0" cy="267.0" r="2.75" fill="url(#gmag)"/><circle cx="306.0" cy="271.4" r="2.75" fill="url(#gmag)"/><circle cx="312.0" cy="275.6" r="2.75" fill="url(#gmag)"/><circle cx="317.9" cy="278.8" r="2.75" fill="url(#gmag)"/><circle cx="323.9" cy="281.5" r="2.75" fill="url(#gmag)"/><circle cx="329.9" cy="284.1" r="2.75" fill="url(#gmag)"/><circle cx="335.9" cy="285.9" r="2.75" fill="url(#gmag)"/><circle cx="341.9" cy="287.6" r="2.75" fill="url(#gmag)"/><circle cx="347.9" cy="289.0" r="2.75" fill="url(#gmag)"/><circle cx="353.8" cy="290.0" r="2.75" fill="url(#gmag)"/><circle cx="359.8" cy="291.0" r="2.75" fill="url(#gmag)"/><circle cx="365.8" cy="292.2" r="2.75" fill="url(#gmag)"/><circle cx="371.8" cy="293.0" r="2.75" fill="url(#gmag)"/><circle cx="377.8" cy="294.0" r="2.75" fill="url(#gmag)"/><circle cx="383.7" cy="294.9" r="2.75" fill="url(#gmag)"/><circle cx="389.7" cy="295.9" r="2.75" fill="url(#gmag)"/><circle cx="395.7" cy="296.7" r="2.75" fill="url(#gmag)"/><circle cx="401.7" cy="297.1" r="2.75" fill="url(#gmag)"/><circle cx="407.7" cy="297.4" r="2.75" fill="url(#gmag)"/><circle cx="413.7" cy="297.8" r="2.75" fill="url(#gmag)"/><circle cx="419.6" cy="298.1" r="2.75" fill="url(#gmag)"/><circle cx="425.6" cy="298.5" r="2.75" fill="url(#gmag)"/><circle cx="431.6" cy="298.8" r="2.75" fill="url(#gmag)"/><circle cx="437.6" cy="299.2" r="2.75" fill="url(#gmag)"/><circle cx="443.6" cy="299.5" r="2.75" fill="url(#gmag)"/><circle cx="449.5" cy="299.9" r="2.75" fill="url(#gmag)"/><circle cx="455.5" cy="300.2" r="2.75" fill="url(#gmag)"/><circle cx="461.5" cy="300.6" r="2.75" fill="url(#gmag)"/><circle cx="467.5" cy="300.9" r="2.75" fill="url(#gmag)"/></g><line x1="64.3" y1="8.5" x2="64.3" y2="12.5" stroke="#999" stroke-width="0.8"/><circle cx="64.2" cy="248" r="1.3" fill="#222"/><line x1="62.7" y1="21.5" x2="62.7" y2="346" stroke="#111" stroke-width="1.6"/><line x1="57" y1="340.3" x2="473.4" y2="340.3" stroke="#111" stroke-width="1.6"/><line x1="57" y1="340.3" x2="62.7" y2="340.3" stroke="#111" stroke-width="1.5"/><line x1="59.8" y1="313.8" x2="62.7" y2="313.8" stroke="#111" stroke-width="1.5"/><line x1="57" y1="287.2" x2="62.7" y2="287.2" stroke="#111" stroke-width="1.5"/><line x1="59.8" y1="260.7" x2="62.7" y2="260.7" stroke="#111" stroke-width="1.5"/><line x1="57" y1="234.2" x2="62.7" y2="234.2" stroke="#111" stroke-width="1.5"/><line x1="59.8" y1="207.7" x2="62.7" y2="207.7" stroke="#111" stroke-width="1.5"/><line x1="57" y1="181.2" x2="62.7" y2="181.2" stroke="#111" stroke-width="1.5"/><line x1="59.8" y1="154.6" x2="62.7" y2="154.6" stroke="#111" stroke-width="1.5"/><line x1="57" y1="128.1" x2="62.7" y2="128.1" stroke="#111" stroke-width="1.5"/><line x1="59.8" y1="101.6" x2="62.7" y2="101.6" stroke="#111" stroke-width="1.5"/><line x1="57" y1="75.1" x2="62.7" y2="75.1" stroke="#111" stroke-width="1.5"/><line x1="59.8" y1="48.5" x2="62.7" y2="48.5" stroke="#111" stroke-width="1.5"/><line x1="57" y1="22.0" x2="62.7" y2="22.0" stroke="#111" stroke-width="1.5"/><line x1="81.0" y1="340.3" x2="81.0" y2="346.5" stroke="#111" stroke-width="1.5"/><line x1="109.0" y1="340.3" x2="109.0" y2="343.6" stroke="#111" stroke-width="1.5"/><line x1="136.9" y1="340.3" x2="136.9" y2="346.5" stroke="#111" stroke-width="1.5"/><line x1="164.9" y1="340.3" x2="164.9" y2="343.6" stroke="#111" stroke-width="1.5"/><line x1="192.9" y1="340.3" x2="192.9" y2="346.5" stroke="#111" stroke-width="1.5"/><line x1="220.9" y1="340.3" x2="220.9" y2="343.6" stroke="#111" stroke-width="1.5"/><line x1="248.8" y1="340.3" x2="248.8" y2="346.5" stroke="#111" stroke-width="1.5"/><line x1="276.8" y1="340.3" x2="276.8" y2="343.6" stroke="#111" stroke-width="1.5"/><line x1="304.8" y1="340.3" x2="304.8" y2="346.5" stroke="#111" stroke-width="1.5"/><line x1="332.7" y1="340.3" x2="332.7" y2="343.6" stroke="#111" stroke-width="1.5"/><line x1="360.7" y1="340.3" x2="360.7" y2="346.5" stroke="#111" stroke-width="1.5"/><line x1="388.7" y1="340.3" x2="388.7" y2="343.6" stroke="#111" stroke-width="1.5"/><line x1="416.7" y1="340.3" x2="416.7" y2="346.5" stroke="#111" stroke-width="1.5"/><line x1="444.6" y1="340.3" x2="444.6" y2="343.6" stroke="#111" stroke-width="1.5"/><line x1="472.6" y1="340.3" x2="472.6" y2="346.5" stroke="#111" stroke-width="1.5"/></svg>
<div class="yl" style="top:332.0px">0.0</div><div class="yl" style="top:278.9px">0.5</div><div class="yl" style="top:225.9px">1.0</div><div class="yl" style="top:172.9px">1.5</div><div class="yl" style="top:119.8px">2.0</div><div class="yl" style="top:66.8px">2.5</div><div class="yl" style="top:13.7px">3.0</div><div class="xl" style="left:61.0px">300</div><div class="xl" style="left:116.9px">375</div><div class="xl" style="left:172.9px">450</div><div class="xl" style="left:228.8px">525</div><div class="xl" style="left:284.8px">600</div><div class="xl" style="left:340.7px">675</div><div class="xl" style="left:396.7px">750</div><div class="xl" style="left:452.6px">825</div>
<div class="lab" style="left:213px;top:12.8px">PDB</div>
<div class="lab" style="left:204px;top:82px">PFP</div>
<div class="lab" style="left:206px;top:156.8px">PFB</div>
<div class="lab" style="left:206.6px;top:212px">PFS</div>
<div class="lab" style="left:211px;top:301.8px">PVA</div>
<div id="xt">Wavelength (nm)</div>
<div id="yt">Absorbance (a.u.)</div>
</div></body></html>
